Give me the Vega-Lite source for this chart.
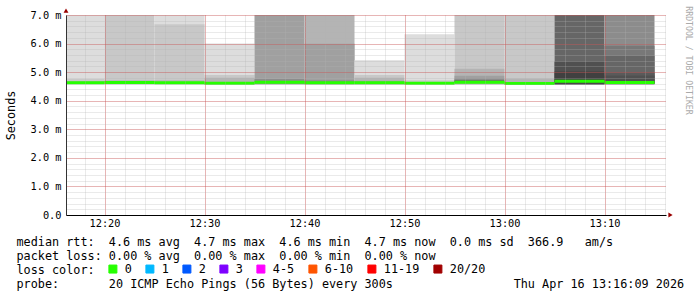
{
  "$schema": "https://vega.github.io/schema/vega-lite/v6.json",
  "width": 600,
  "height": 200,
  "autosize": {"type": "none"},
  "padding": {"left": 66, "top": 15, "right": 31, "bottom": 82},
  "background": "white",
  "config": {
    "view": {"stroke": null},
    "font": "DejaVu Sans Mono",
    "axis": {"labelFont": "DejaVu Sans Mono", "titleFont": "DejaVu Sans Mono", "labelColor": "black", "titleColor": "black", "titleFontWeight": "normal"}
  },
  "datasets": {
    "smoke": [
      {"t0": "2026-04-16T12:15:00Z", "t1": "2026-04-16T12:20:00Z", "lo": 4.57, "hi": 7.0, "shade": 1},
      {"t0": "2026-04-16T12:15:00Z", "t1": "2026-04-16T12:20:00Z", "lo": 4.59, "hi": 4.76, "shade": 2},
      {"t0": "2026-04-16T12:15:00Z", "t1": "2026-04-16T12:20:00Z", "lo": 4.6, "hi": 4.69, "shade": 3},
      {"t0": "2026-04-16T12:20:00Z", "t1": "2026-04-16T12:25:00Z", "lo": 4.57, "hi": 7.0, "shade": 2},
      {"t0": "2026-04-16T12:20:00Z", "t1": "2026-04-16T12:25:00Z", "lo": 4.59, "hi": 4.72, "shade": 3},
      {"t0": "2026-04-16T12:25:00Z", "t1": "2026-04-16T12:30:00Z", "lo": 4.57, "hi": 7.0, "shade": 1},
      {"t0": "2026-04-16T12:25:00Z", "t1": "2026-04-16T12:30:00Z", "lo": 4.58, "hi": 6.68, "shade": 2},
      {"t0": "2026-04-16T12:25:00Z", "t1": "2026-04-16T12:30:00Z", "lo": 4.6, "hi": 4.72, "shade": 3},
      {"t0": "2026-04-16T12:30:00Z", "t1": "2026-04-16T12:35:00Z", "lo": 4.55, "hi": 6.0, "shade": 1},
      {"t0": "2026-04-16T12:30:00Z", "t1": "2026-04-16T12:35:00Z", "lo": 4.57, "hi": 4.9, "shade": 2},
      {"t0": "2026-04-16T12:30:00Z", "t1": "2026-04-16T12:35:00Z", "lo": 4.59, "hi": 4.8, "shade": 3},
      {"t0": "2026-04-16T12:35:00Z", "t1": "2026-04-16T12:40:00Z", "lo": 4.57, "hi": 7.0, "shade": 4},
      {"t0": "2026-04-16T12:35:00Z", "t1": "2026-04-16T12:40:00Z", "lo": 4.59, "hi": 4.76, "shade": 5},
      {"t0": "2026-04-16T12:40:00Z", "t1": "2026-04-16T12:45:00Z", "lo": 4.57, "hi": 7.0, "shade": 3},
      {"t0": "2026-04-16T12:40:00Z", "t1": "2026-04-16T12:45:00Z", "lo": 4.58, "hi": 5.99, "shade": 4},
      {"t0": "2026-04-16T12:40:00Z", "t1": "2026-04-16T12:45:00Z", "lo": 4.6, "hi": 4.72, "shade": 5},
      {"t0": "2026-04-16T12:45:00Z", "t1": "2026-04-16T12:50:00Z", "lo": 4.55, "hi": 5.42, "shade": 1},
      {"t0": "2026-04-16T12:45:00Z", "t1": "2026-04-16T12:50:00Z", "lo": 4.57, "hi": 4.9, "shade": 2},
      {"t0": "2026-04-16T12:45:00Z", "t1": "2026-04-16T12:50:00Z", "lo": 4.59, "hi": 4.8, "shade": 3},
      {"t0": "2026-04-16T12:45:00Z", "t1": "2026-04-16T12:50:00Z", "lo": 4.61, "hi": 4.7, "shade": 4},
      {"t0": "2026-04-16T12:50:00Z", "t1": "2026-04-16T12:55:00Z", "lo": 4.56, "hi": 6.33, "shade": 1},
      {"t0": "2026-04-16T12:50:00Z", "t1": "2026-04-16T12:55:00Z", "lo": 4.58, "hi": 4.72, "shade": 2},
      {"t0": "2026-04-16T12:55:00Z", "t1": "2026-04-16T13:00:00Z", "lo": 4.57, "hi": 7.0, "shade": 2},
      {"t0": "2026-04-16T12:55:00Z", "t1": "2026-04-16T13:00:00Z", "lo": 4.58, "hi": 5.12, "shade": 3},
      {"t0": "2026-04-16T12:55:00Z", "t1": "2026-04-16T13:00:00Z", "lo": 4.6, "hi": 4.87, "shade": 4},
      {"t0": "2026-04-16T12:55:00Z", "t1": "2026-04-16T13:00:00Z", "lo": 4.62, "hi": 4.78, "shade": 5},
      {"t0": "2026-04-16T12:55:00Z", "t1": "2026-04-16T13:00:00Z", "lo": 4.63, "hi": 4.72, "shade": 7},
      {"t0": "2026-04-16T13:00:00Z", "t1": "2026-04-16T13:05:00Z", "lo": 4.57, "hi": 7.0, "shade": 2},
      {"t0": "2026-04-16T13:00:00Z", "t1": "2026-04-16T13:05:00Z", "lo": 4.58, "hi": 4.78, "shade": 3},
      {"t0": "2026-04-16T13:05:00Z", "t1": "2026-04-16T13:10:00Z", "lo": 4.56, "hi": 7.0, "shade": 7},
      {"t0": "2026-04-16T13:05:00Z", "t1": "2026-04-16T13:10:00Z", "lo": 4.58, "hi": 5.37, "shade": 9},
      {"t0": "2026-04-16T13:05:00Z", "t1": "2026-04-16T13:10:00Z", "lo": 4.6, "hi": 5.02, "shade": 10},
      {"t0": "2026-04-16T13:10:00Z", "t1": "2026-04-16T13:15:00Z", "lo": 4.57, "hi": 7.0, "shade": 5},
      {"t0": "2026-04-16T13:10:00Z", "t1": "2026-04-16T13:15:00Z", "lo": 4.58, "hi": 5.92, "shade": 6},
      {"t0": "2026-04-16T13:10:00Z", "t1": "2026-04-16T13:15:00Z", "lo": 4.59, "hi": 5.57, "shade": 7},
      {"t0": "2026-04-16T13:10:00Z", "t1": "2026-04-16T13:15:00Z", "lo": 4.6, "hi": 5.0, "shade": 8},
      {"t0": "2026-04-16T13:10:00Z", "t1": "2026-04-16T13:15:00Z", "lo": 4.61, "hi": 4.88, "shade": 9}
    ],
    "median": [
      {"t0": "2026-04-16T12:15:00Z", "t1": "2026-04-16T12:20:00Z", "med": 4.63, "loss": "0"},
      {"t0": "2026-04-16T12:20:00Z", "t1": "2026-04-16T12:25:00Z", "med": 4.64, "loss": "0"},
      {"t0": "2026-04-16T12:25:00Z", "t1": "2026-04-16T12:30:00Z", "med": 4.63, "loss": "0"},
      {"t0": "2026-04-16T12:30:00Z", "t1": "2026-04-16T12:35:00Z", "med": 4.61, "loss": "0"},
      {"t0": "2026-04-16T12:35:00Z", "t1": "2026-04-16T12:40:00Z", "med": 4.65, "loss": "0"},
      {"t0": "2026-04-16T12:40:00Z", "t1": "2026-04-16T12:45:00Z", "med": 4.63, "loss": "0"},
      {"t0": "2026-04-16T12:45:00Z", "t1": "2026-04-16T12:50:00Z", "med": 4.63, "loss": "0"},
      {"t0": "2026-04-16T12:50:00Z", "t1": "2026-04-16T12:55:00Z", "med": 4.61, "loss": "0"},
      {"t0": "2026-04-16T12:55:00Z", "t1": "2026-04-16T13:00:00Z", "med": 4.65, "loss": "0"},
      {"t0": "2026-04-16T13:00:00Z", "t1": "2026-04-16T13:05:00Z", "med": 4.6, "loss": "0"},
      {"t0": "2026-04-16T13:05:00Z", "t1": "2026-04-16T13:10:00Z", "med": 4.68, "loss": "0"},
      {"t0": "2026-04-16T13:10:00Z", "t1": "2026-04-16T13:15:00Z", "med": 4.64, "loss": "0"}
    ],
    "arrows": [
      {"t": "2026-04-16T12:16:09Z", "v": 7.15, "dir": "up"},
      {"t": "2026-04-16T13:16:36Z", "v": 0, "dir": "right"}
    ]
  },
  "resolve": {"axis": {"x": "independent", "y": "independent"}},
  "layer": [
    {
      "data": {"name": "smoke"},
      "mark": {"type": "rect", "clip": true},
      "encoding": {
        "x": {
          "field": "t0", "type": "temporal",
          "scale": {"type": "utc", "nice": false, "domain": [1776341769000, 1776345369000]},
          "axis": {"orient": "bottom", "labels": false, "ticks": false, "domain": false, "title": null, "grid": true,
                   "gridColor": "#b4b4b4", "gridOpacity": 0.55, "gridDash": [1, 1], "gridWidth": 1,
                   "values": [1776341880000, 1776342000000, 1776342120000, 1776342240000, 1776342360000, 1776342480000, 1776342600000, 1776342720000, 1776342840000, 1776342960000, 1776343080000, 1776343200000, 1776343320000, 1776343440000, 1776343560000, 1776343680000, 1776343800000, 1776343920000, 1776344040000, 1776344160000, 1776344280000, 1776344400000, 1776344520000, 1776344640000, 1776344760000, 1776344880000, 1776345000000, 1776345120000, 1776345240000, 1776345360000],
                   "zindex": 1}
        },
        "x2": {"field": "t1"},
        "y": {
          "field": "lo", "type": "quantitative",
          "scale": {"domain": [0, 7], "nice": false, "zero": false},
          "axis": {"orient": "left", "labels": false, "ticks": false, "domain": false, "title": null, "grid": true,
                   "gridColor": "#b4b4b4", "gridOpacity": 0.55, "gridDash": [1, 1], "gridWidth": 1,
                   "tickCount": 35, "zindex": 1}
        },
        "y2": {"field": "hi"},
        "fill": {
          "field": "shade", "type": "ordinal",
          "scale": {"domain": [1, 2, 3, 4, 5, 6, 7, 8, 9, 10],
                    "range": ["#dddddd", "#c8c8c8", "#b4b4b4", "#a0a0a0", "#8c8c8c", "#787878", "#666666", "#5a5a5a", "#505050", "#404040"]},
          "legend": null
        }
      }
    },
    {
      "data": {"name": "median"},
      "mark": {"type": "rule", "clip": true, "strokeWidth": 3},
      "encoding": {
        "x": {
          "field": "t0", "type": "temporal",
          "scale": {"type": "utc", "nice": false, "domain": [1776341769000, 1776345369000]},
          "axis": {
            "orient": "bottom",
            "grid": true, "gridColor": "#e00000", "gridOpacity": 0.45, "gridDash": [1, 1], "gridWidth": 1,
            "values": [1776342000000, 1776342600000, 1776343200000, 1776343800000, 1776344400000, 1776345000000],
            "labelExpr": "utcFormat(datum.value, '%H:%M')",
            "ticks": false, "labelPadding": 3, "labelFontSize": 10.3, "labelFlush": false,
            "domain": true, "domainColor": "black", "domainWidth": 1, "zindex": 1,
            "title": [
              "median rtt:\u00a0\u00a04.6 ms avg\u00a0\u00a04.7 ms max\u00a0\u00a04.6 ms min\u00a0\u00a04.7 ms now\u00a0\u00a00.0 ms sd\u00a0\u00a0366.9\u00a0\u00a0\u00a0am/s",
              "packet loss: 0.00 % avg\u00a0\u00a00.00 % max\u00a0\u00a00.00 % min\u00a0\u00a00.00 % now",
              "loss color:",
              "probe:\u00a0\u00a0\u00a0\u00a0\u00a0\u00a0\u00a020 ICMP Echo Pings (56 Bytes) every 300s\u00a0\u00a0\u00a0\u00a0\u00a0\u00a0\u00a0\u00a0\u00a0\u00a0\u00a0\u00a0\u00a0\u00a0\u00a0\u00a0\u00a0Thu Apr 16 13:16:09 2026"
            ],
            "titleFontSize": 11.8, "titleLineHeight": 14.3, "titleX": -50, "titleY": 30,
            "titleAlign": "left", "titleBaseline": "alphabetic", "titleAngle": 0, "titleLimit": 2000
          }
        },
        "x2": {"field": "t1"},
        "y": {
          "field": "med", "type": "quantitative",
          "scale": {"domain": [0, 7], "nice": false, "zero": false},
          "axis": {
            "orient": "left",
            "grid": true, "gridColor": "#e00000", "gridOpacity": 0.45, "gridDash": [1, 1], "gridWidth": 1,
            "values": [0, 1, 2, 3, 4, 5, 6, 7], "ticks": false, "labelPadding": 5, "labelFontSize": 10.3,
            "labelExpr": "datum.value == 0 ? '0.0' : format(datum.value, '.1f') + ' m'",
            "domain": true, "domainColor": "#333333", "domainWidth": 1, "zindex": 1,
            "title": "Seconds", "titleFontSize": 11.8, "titleX": -56, "titleY": 100,
            "titleAngle": -90, "titleAlign": "center", "titleBaseline": "middle"
          }
        },
        "color": {
          "field": "loss", "type": "nominal",
          "scale": {"domain": ["0", "1", "2", "3", "4-5", "6-10", "11-19", "20/20"],
                    "range": ["#26ff00", "#00b8ff", "#0059ff", "#7e00ff", "#ff00ff", "#ff5500", "#ff0000", "#a10000"]},
          "legend": {
            "orient": "none", "legendX": 41, "legendY": 248, "direction": "horizontal", "columns": 8,
            "title": null, "padding": 0, "symbolType": "square", "symbolSize": 64,
            "symbolStrokeColor": "black", "symbolStrokeWidth": 1, "symbolOpacity": 1,
            "labelFont": "DejaVu Sans Mono", "labelFontSize": 11.8, "labelColor": "black",
            "labelOffset": 6, "columnPadding": 11, "labelLimit": 200,
            "encode": {"symbols": {"update": {"fill": {"scale": "color", "field": "value"}, "stroke": {"value": "black"}, "strokeWidth": {"value": 1}, "opacity": {"value": 1}}}}
          }
        }
      }
    },
    {
      "data": {"name": "arrows"},
      "mark": {"type": "point", "filled": true, "clip": false, "size": 24, "color": "#990000", "opacity": 1},
      "encoding": {
        "x": {"field": "t", "type": "temporal", "axis": null},
        "y": {
          "field": "v", "type": "quantitative",
          "axis": {"orient": "right", "labels": false, "ticks": false, "domain": false, "grid": false,
                   "title": "RRDTOOL / TOBI OETIKER", "titleFontSize": 8.2, "titleColor": "#aaaaaa",
                   "titleAngle": 90, "titleX": 21, "titleY": 45, "titleAlign": "center", "titleBaseline": "middle"}
        },
        "shape": {"field": "dir", "type": "nominal",
                  "scale": {"domain": ["up", "right"], "range": ["triangle-up", "triangle-right"]},
                  "legend": null}
      }
    }
  ]
}
